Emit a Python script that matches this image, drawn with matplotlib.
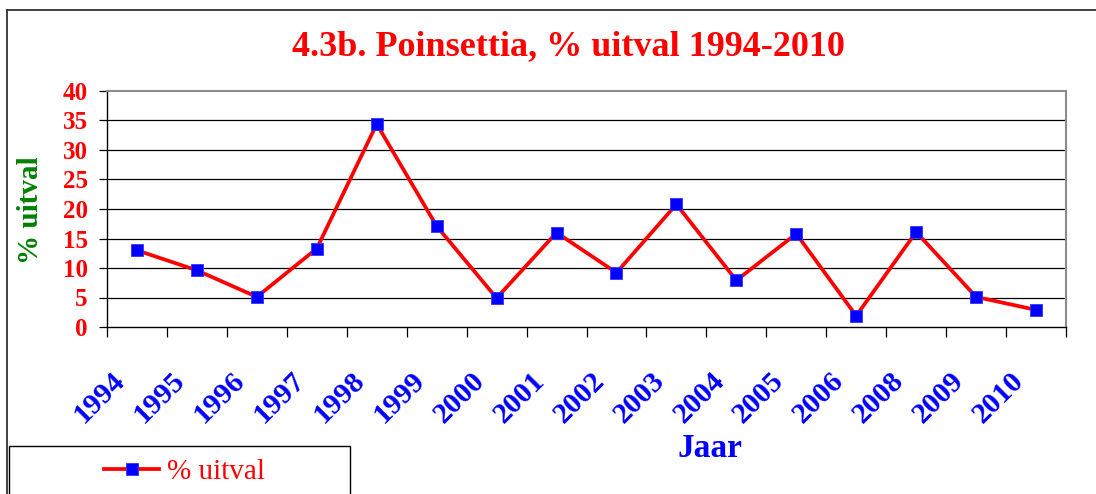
import matplotlib
matplotlib.use("Agg")
import matplotlib.pyplot as plt
from matplotlib.transforms import blended_transform_factory, ScaledTranslation
from matplotlib.lines import Line2D
from matplotlib.patches import Rectangle

years = ["1994", "1995", "1996", "1997", "1998", "1999", "2000", "2001",
         "2002", "2003", "2004", "2005", "2006", "2008", "2009", "2010"]
uitval = [13.0, 9.6, 5.1, 13.3, 34.4, 17.1, 4.9, 16.0,
          9.2, 20.8, 7.9, 15.8, 1.9, 16.1, 5.1, 2.9]
yticks = [0, 5, 10, 15, 20, 25, 30, 35, 40]

W, H = 1096, 494
plt.rcParams['font.family'] = ['Liberation Serif', 'DejaVu Serif']
fig = plt.figure(figsize=(W / 100, H / 100), dpi=100)

def fx(px):
    return px / W

def fy(py):
    return 1 - py / H

ax = fig.add_axes([fx(107), fy(327), fx(1066) - fx(107), fy(91) - fy(327)])
xs = list(range(len(years)))
ax.plot(xs, uitval, color='#FF0000', lw=2.7, marker='s', ms=9,
        markerfacecolor='#0000FF', markeredgecolor='#3333FF', mew=0.6,
        zorder=3, clip_on=False)

ax.set_xlim(-0.5, len(years) - 0.5)
ax.set_ylim(0, 40)
ax.set_yticks(yticks)
ax.set_yticklabels([str(v) for v in yticks], color='#FF0000',
                   fontweight='bold', fontsize=18)
ax.tick_params(axis='y', length=6, width=0.9, color='black', pad=8)
ax.set_xticks([i - 0.5 for i in range(len(years) + 1)])
ax.set_xticklabels([])
ax.tick_params(axis='x', length=7, width=0.9, color='black')
for v in yticks[1:-1]:
    ax.axhline(v, color='black', lw=0.9, zorder=1)

for s in ['top', 'right']:
    ax.spines[s].set_color('#8c8c8c')
    ax.spines[s].set_linewidth(1.5)
for s in ['left', 'bottom']:
    ax.spines[s].set_color('black')
    ax.spines[s].set_linewidth(1.0)

trans = blended_transform_factory(ax.transData, ax.transAxes) + \
    ScaledTranslation(-0.11, -0.55, fig.dpi_scale_trans)
for i, lab in enumerate(years):
    ax.text(i, 0, lab, transform=trans, rotation=45, rotation_mode='anchor',
            ha='right', va='baseline', color='#0000FF', fontweight='bold',
            fontsize=21.5, clip_on=False)

fig.text(fx(568), fy(55), "4.3b. Poinsettia, % uitval 1994-2010",
         ha='center', va='baseline', color='#FF0000', fontweight='bold',
         fontsize=26)
fig.text(fx(710), fy(457), "Jaar", ha='center', va='baseline',
         color='#0000FF', fontweight='bold', fontsize=24)
fig.text(fx(31), fy(210), "% uitval", ha='center', va='center', rotation=90,
         color='#008000', fontweight='bold', fontsize=21)

# outer chart border
fig.add_artist(Line2D([fx(7), fx(1100)], [fy(10), fy(10)], color='#333333',
                      lw=1.3, transform=fig.transFigure))
fig.add_artist(Line2D([fx(7), fx(7)], [fy(10), fy(500)], color='#333333',
                      lw=1.3, transform=fig.transFigure))

# legend box
fig.add_artist(Rectangle((fx(9), fy(500)), fx(350) - fx(9), fy(446) - fy(500),
                         transform=fig.transFigure, facecolor='white',
                         edgecolor='black', lw=1.0))
handle = Line2D([], [], color='#FF0000', lw=2.7, marker='s', ms=9,
                markerfacecolor='#0000FF', markeredgecolor='#3333FF', mew=0.6)
leg = fig.legend([handle], ["% uitval"], loc='center left',
                 bbox_to_anchor=(fx(104), fy(472)), frameon=False,
                 fontsize=21, handlelength=1.9, handletextpad=0.25,
                 borderpad=0, borderaxespad=0)
for t in leg.get_texts():
    t.set_color('#FF0000')

fig.savefig("out.png", dpi=100)
